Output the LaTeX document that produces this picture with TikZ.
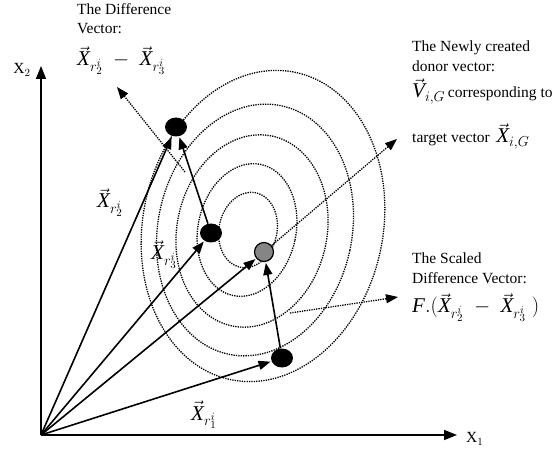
\documentclass[tikz,border=0pt]{standalone}
\usepackage{fontspec}
\setmainfont{Liberation Serif}
\usetikzlibrary{arrows.meta,shapes.geometric}
\newcommand{\vX}{\vec{\textit{X}}}
\newcommand{\vV}{\vec{\textit{V}}}
\newcommand{\fbig}{\fontsize{21}{24}\selectfont}
\tikzset{
  dotline/.style={line width=1.3pt, dash pattern=on 1.3pt off 1.1pt},
  vecarrow/.style={line width=1.6pt, -{Triangle[length=12pt,width=9pt]}, shorten >=1pt},
  dotarrow/.style={dotline, -{Triangle[length=12pt,width=9pt]}},
  axisarrow/.style={line width=1.6pt, -{Triangle[length=13pt,width=10pt]}},
  blackdot/.style={ellipse, fill=black, minimum width=22pt, minimum height=19pt, inner sep=0pt},
  greydot/.style={circle, fill=black!48, draw=black, line width=1.2pt, minimum size=19pt, inner sep=0pt},
  txt/.style={font=\fontsize{15.5}{19.5}\selectfont, inner sep=0pt, align=left},
  mth/.style={font=\fbig, inner sep=0pt}
}
\begin{document}
\begin{tikzpicture}[x=1pt,y=1pt]
\useasboundingbox (0,0) rectangle (555,456);
% contour ellipses (centre x, centre y, minor, major)
\foreach \cx/\cy/\b/\a in {248/226/29/38, 247/226/49/67, 252/225/75/97, 255/226/97/127, 263/230/120/157}{
  \draw[dotline, rotate around={-12:(\cx,\cy)}] (\cx,\cy) ellipse [x radius=\b, y radius=\a];
}
% axes
\coordinate (O) at (41,21);
\coordinate (X1tip) at (457,21);
\coordinate (X2tip) at (41,390);
\draw[axisarrow] (O) -- (X1tip);
\draw[axisarrow] (O) -- (X2tip);
\node[txt, anchor=west] (X1lab) at (466,17) {X$_1$};
\node[txt] (X2lab) at (22,386) {X$_2$};
% points
\node[blackdot] (A) at (176,329) {};
\node[blackdot] (B) at (211,223) {};
\node[greydot] (C) at (264,204) {};
\node[blackdot] (D) at (282,98) {};
% vectors
\draw[vecarrow] (O) -- (A);
\draw[vecarrow] (O) -- (B);
\draw[vecarrow] (O) -- (C);
\draw[vecarrow] (O) -- (D);
\draw[vecarrow] (B) -- (A);
\draw[vecarrow] (D) -- (C);
% dotted pointer arrows
\coordinate (diffS) at (185,284);
\coordinate (diffT) at (117,369);
\coordinate (donT) at (397,317);
\coordinate (scS) at (290,143);
\coordinate (scT) at (398,159);
\draw[dotarrow] (diffS) -- (diffT);
\draw[dotarrow] (C) -- (donT);
\draw[dotarrow] (scS) -- (scT);
% vector labels
\node[mth, anchor=base west] (Lr2) at (97,248) {$\vX_{r_2^i}$};
\node[mth, anchor=base west] (Lr3) at (151,196) {$\vX_{r_3^i}$};
\node[mth, anchor=base west] (Lr1) at (191,36) {$\vX_{r_1^i}$};
% difference vector text
\node[txt, anchor=north west] (DiffT) at (77,453) {The Difference\\Vector:};
\node[mth, anchor=base west] (DiffF) at (77,390) {$\vX_{r_2^i} \;-\; \vX_{r_3^i}$};
% donor text
\node[txt, anchor=north west] (DonT) at (412,415) {The Newly created\\donor vector:};
\node[txt, anchor=base west] (DonV) at (412,358) {{\fbig$\vV_{i,G}$}\,corresponding to};
\node[txt, anchor=base west] (DonX) at (412,313) {target vector\ \,{\fbig$\vX_{i,G}$}};
% scaled text
\node[txt, anchor=north west] (ScT) at (412,203) {The Scaled\\Difference Vector:};
\node[mth, anchor=base west] (ScF) at (412,143) {$\textit{F}.(\vX_{r_2^i} \;-\; \vX_{r_3^i}\;)$};
\end{tikzpicture}
\end{document}
